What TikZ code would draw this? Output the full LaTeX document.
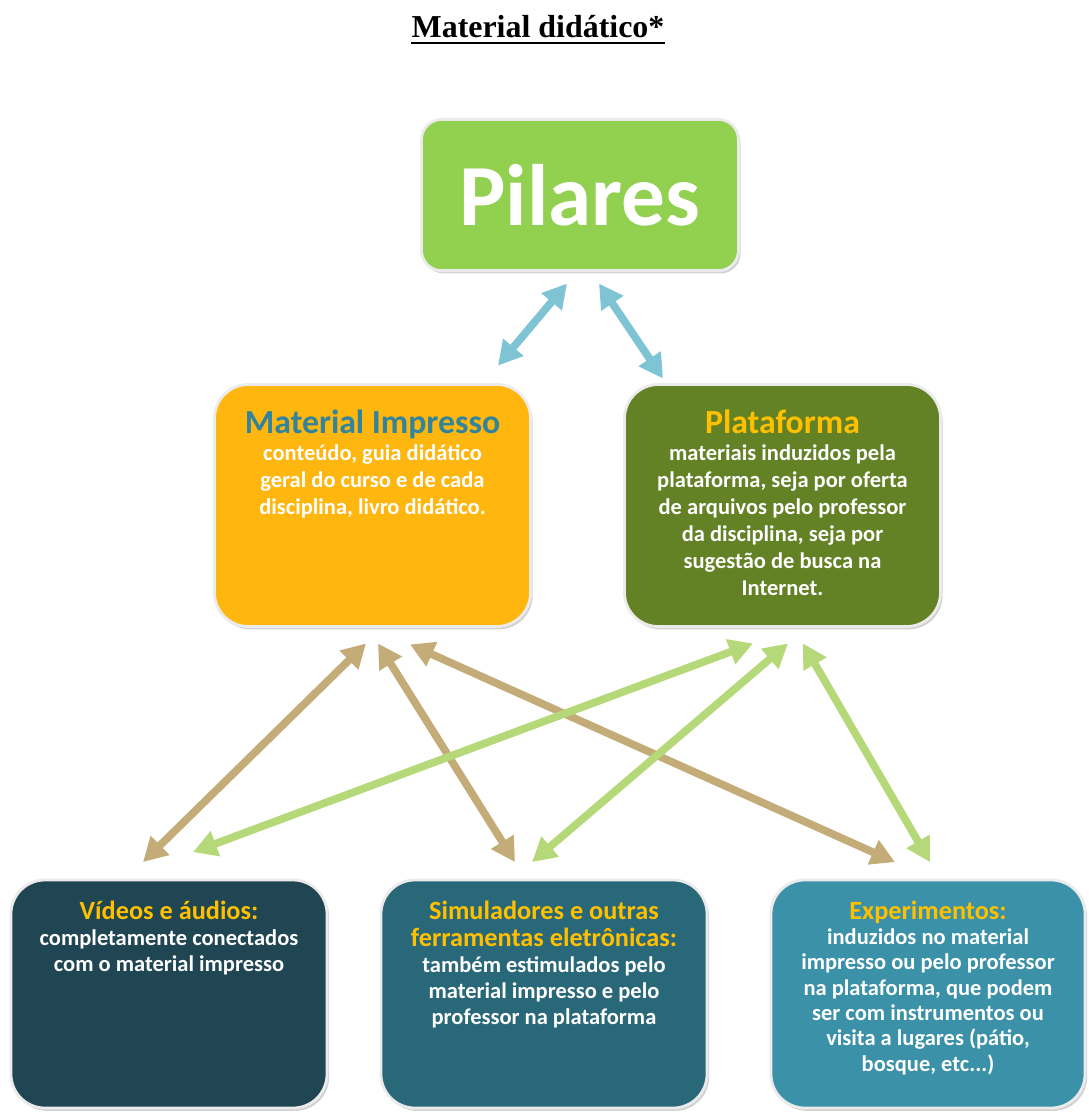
\documentclass[tikz,border=0pt]{standalone}
\usepackage{fontspec}
\setmainfont{Liberation Serif}
\newfontfamily\calibri{Carlito}
\usetikzlibrary{arrows.meta,shadows,calc}

\definecolor{pilaresgreen}{RGB}{146,208,80}
\definecolor{impressoorange}{RGB}{255,182,14}
\definecolor{impressoteal}{RGB}{49,132,155}
\definecolor{plataformaolive}{RGB}{99,129,37}
\definecolor{titlegold}{RGB}{255,192,0}
\definecolor{videoteal}{RGB}{31,70,82}
\definecolor{simteal}{RGB}{41,104,121}
\definecolor{expteal}{RGB}{58,145,168}
\definecolor{linkblue}{RGB}{126,196,212}
\definecolor{linktan}{RGB}{196,172,120}
\definecolor{linkgreen}{RGB}{181,217,121}

\newcommand{\cardbody}[3]{\parbox[c][#2][t]{#1}{\centering #3}}
\newcommand{\bigheading}[2]{{\fontsize{24}{29}\selectfont\color{#1}\rule{0pt}{35pt}#2\par}}
\newcommand{\smallheading}[1]{{\fontsize{18.7}{19}\selectfont\color{titlegold}\rule{0pt}{28pt}#1\par}}
\newcommand{\cardtext}[2]{{\fontsize{16}{#1}\selectfont #2\par}}

\tikzset{
  pillar/.style={rectangle, rounded corners=0.85cm, draw=white!92!black, line width=2pt,
    inner sep=0pt, font=\calibri\bfseries, text=white,
    drop shadow={shadow xshift=1.5pt, shadow yshift=-2pt, opacity=0.3, fill=black!60}},
  link/.style={{Triangle[length=17pt,width=18pt]}-{Triangle[length=17pt,width=18pt]}, line width=5.5pt},
  bluelink/.style={link, draw=linkblue},
  tanlink/.style={link, draw=linktan},
  greenlink/.style={link, draw=linkgreen}
}

\begin{document}
\begin{tikzpicture}[x=0.025cm,y=-0.025cm]
                \useasboundingbox (0,0) rectangle (1088,1113);

                % title
                \node[anchor=base, inner sep=0pt, font=\bfseries\fontsize{22.7}{26}\selectfont] (title) at (538,37) {Material didático*};
                \draw[line width=1.4pt] ($(title.base west)+(0,6)$)--($(title.base east)+(0,6)$);

                % boxes
                \node[pillar, fill=pilaresgreen, rounded corners=0.5cm, minimum width=7.92cm, minimum height=3.78cm] (pil) at (580,195)
                    {\fontsize{62}{62}\selectfont Pilares};
                \node[pillar, fill=impressoorange] (mi) at (372.5,505.5)
                    {\cardbody{7.9cm}{6.05cm}{\bigheading{impressoteal}{Material Impresso}
                     \cardtext{19.2}{conteúdo, guia didático\\geral do curso e de cada\\disciplina, livro didático.}}};
                \node[pillar, fill=plataformaolive] (plat) at (782.5,505.5)
                    {\cardbody{7.9cm}{6.05cm}{\bigheading{titlegold}{Plataforma}
                     \cardtext{19.2}{materiais induzidos pela\\plataforma, seja por oferta\\de arquivos pelo professor\\da disciplina, seja por\\sugestão de busca na\\Internet.}}};
                \node[pillar, fill=videoteal] (vid) at (169,994)
                    {\cardbody{7.9cm}{5.7cm}{\smallheading{Vídeos e áudios:}
                     \cardtext{18.5}{completamente conectados\\com o material impresso}}};
                \node[pillar, fill=simteal] (sim) at (544,994)
                    {\cardbody{8.15cm}{5.7cm}{\smallheading{Simuladores e outras\\ferramentas eletrônicas:}
                     \cardtext{18.5}{também estimulados pelo\\material impresso e pelo\\professor na plataforma}}};
                \node[pillar, fill=expteal] (exp) at (928,994)
                    {\cardbody{7.85cm}{5.7cm}{\smallheading{Experimentos:}
                     \cardtext{18}{induzidos no material\\impresso ou pelo professor\\na plataforma, que podem\\ser com instrumentos ou\\visita a lugares (pátio,\\bosque, etc...)}}};

                % links
                \draw[bluelink] ($(pil.south)+(-13,11.5)$)--($(mi.north)+(125.5,-17.5)$);
                \draw[bluelink] ($(pil.south)+(19,11.5)$)--($(plat.north)+(-119.5,-4.5)$);

                \draw[tanlink] ($(mi.south)+(-6.5,15.5)$)--($(vid.north)+(-26,-16.5)$);
                \draw[tanlink] ($(mi.south)+(5.5,15.5)$)--($(sim.north)+(-29,-16.5)$);
                \draw[tanlink] ($(mi.south)+(37.5,16.5)$)--($(exp.north)+(-33,-16.5)$);

                \draw[greenlink] ($(plat.south)+(-29.5,15.5)$)--($(vid.north)+(24,-26.5)$);
                \draw[greenlink] ($(plat.south)+(5.5,15.5)$)--($(sim.north)+(-12,-16.5)$);
                \draw[greenlink] ($(plat.south)+(20.5,15.5)$)--($(exp.north)+(2,-16.5)$);
            \end{tikzpicture}
\end{document}
